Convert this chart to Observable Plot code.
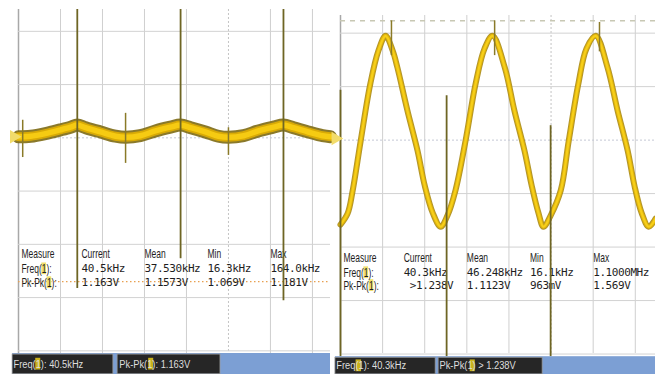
<!DOCTYPE html>
<html><head><meta charset="utf-8">
<script src="https://cdn.jsdelivr.net/npm/d3@7"></script>
<script src="https://cdn.jsdelivr.net/npm/@observablehq/plot@0.6"></script>
<style>
html,body{margin:0;padding:0;background:#fff;}
#wrap{position:relative;width:655px;height:374px;overflow:hidden;background:#fff;}
#wrap svg{position:absolute;top:0;}
</style></head><body><div id="wrap"></div>
<script>
// ===== data (units: oscilloscope divisions) =====
const gridX = [0, 1, 2, 3, 4, 6, 7];
const centerX = [5];
const gridY = [-3, -2, -1, 0, 2, 3];
const centerY = [1];

// left capture: ripple trace
const leftTraceX = [0.00,0.29,0.64,1.00,1.24,1.40,1.60,1.95,2.31,2.55,2.90,3.26,3.62,3.86,4.10,4.45,4.76,5.00,5.36,5.71,6.07,6.31,6.55,6.90,7.24,7.43];
const leftTraceY = [1.02,1.03,1.08,1.15,1.20,1.24,1.19,1.11,1.03,1.01,1.04,1.13,1.20,1.24,1.19,1.11,1.03,1.01,1.04,1.13,1.20,1.24,1.19,1.11,1.04,1.02];
const leftBigSpikeX = [1.40, 3.86, 6.31];
const leftBigSpikeTop = [3.41, 3.41, 3.41];
const leftBigSpikeBottom = [-1.83, -1.27, -2.06];
const leftSmallSpikeX = [0.10, 2.55, 5.00];
const leftSmallSpikeTop = [1.33, 1.46, 1.19];
const leftSmallSpikeBottom = [0.63, 0.52, 0.67];
const leftTriggerLevel = [-1.70];

// right capture: sine trace
const rightTraceX = [0.00,0.17,0.29,0.48,0.71,0.90,1.07,1.24,1.35,1.59,1.83,2.00,2.19,2.38,2.54,2.73,2.97,3.21,3.42,3.61,3.90,4.13,4.37,4.54,4.70,4.82,4.99,5.23,5.42,5.65,5.84,6.06,6.34,6.58,6.82,6.98,7.15,7.32,7.48];
const rightTraceY = [-0.58,-0.37,0.06,0.99,2.06,2.67,2.95,2.67,2.36,1.55,0.80,0.15,-0.36,-0.62,-0.41,0.06,0.99,2.06,2.71,2.95,2.36,1.55,0.80,0.15,-0.36,-0.62,-0.41,0.06,0.99,2.06,2.71,2.95,2.36,1.55,0.80,0.15,-0.36,-0.62,-0.47];
const rightBigSpikeX = [0.00, 2.52, 4.99];
const rightBigSpikeTop = [1.93, 1.83, 1.27];
const rightBigSpikeBottom = [-3.05, -3.05, -3.05];
const rightSmallSpikeX = [1.21, 3.66, 6.15];
const rightSmallSpikeTop = [3.23, 3.23, 3.20];
const rightSmallSpikeBottom = [2.58, 2.58, 2.65];
const rightCursorLevel = [3.23];

// measurement table
const headers = ["Measure", "Current", "Mean", "Min", "Max"];
const rowLabels = ["Freq(1):", "Pk-Pk(1):"];
const colX = [0.07, 1.50, 3.00, 4.50, 6.00];
const leftRowY = [-1.19, -1.46, -1.72];
const rightRowY = [-1.21, -1.48, -1.72];
const leftFreq = ["40.5kHz", "37.530kHz", "16.3kHz", "164.0kHz"];
const leftPkPk = ["1.163V", "1.1573V", "1.069V", "1.181V"];
const rightFreq = ["40.3kHz", "46.248kHz", "16.1kHz", "1.1000MHz"];
const rightPkPk = [" >1.238V", "1.1123V", "963mV", "1.569V"];

// status bar
const leftStatus = ["Freq(1): 40.5kHz", "Pk-Pk(1): 1.163V"];
const rightStatus = ["Freq(1): 40.3kHz", "Pk-Pk(1) > 1.238V"];

// ===== drawing =====
const SANS = "Liberation Sans, Arial, sans-serif";
const MONO = "DejaVu Sans Mono, Liberation Mono, monospace";
const SX = {"12.5": 0.68, "11.5": 0.81};

function zip(xs, ys) { return xs.map((x, i) => ({x, y: ys[i]})); }

function panel(o) {
  const trace = zip(o.traceX, o.traceY);
  const big = o.bigX.map((x, i) => ({x, y1: o.bigTop[i], y2: o.bigBottom[i]}));
  const small = o.smallX.map((x, i) => ({x, y1: o.smallTop[i], y2: o.smallBottom[i]}));
  const head = headers.map((t, i) => ({t, x: colX[i], y: o.rowY[0]}));
  const labels = rowLabels.map((t, i) => ({t, x: colX[0], y: o.rowY[i + 1]}));
  const vals = o.freq.map((t, i) => ({t, x: colX[i + 1], y: o.rowY[1]}))
    .concat(o.pk.map((t, i) => ({t, x: colX[i + 1], y: o.rowY[2]})));
  const hl = [
    {x1: colX[0] + 0.485, x2: colX[0] + 0.597, y: o.rowY[1]},
    {x1: colX[0] + 0.609, x2: colX[0] + 0.72, y: o.rowY[2]}
  ].map(d => ({...d, y1: d.y - 0.11, y2: d.y + 0.11}));
  const st = o.status;
  const bar = [{x1: st.barX1, x2: st.barX2, y1: st.y1, y2: st.y2}];
  const boxes = [
    {x1: st.boxX[0], x2: st.boxX[1], y1: st.y1 - 0.02, y2: st.y2 + 0.02},
    {x1: st.boxX[2], x2: st.boxX[3], y1: st.y1 - 0.02, y2: st.y2 + 0.02}
  ];
  const stHl = [
    {x1: st.hl[0], x2: st.hl[1], y1: st.ty - 0.11, y2: st.ty + 0.11},
    {x1: st.hl[2], x2: st.hl[3], y1: st.ty - 0.11, y2: st.ty + 0.11}
  ];
  const stText = o.statusText.map((t, i) => ({t, x: st.tx[i], y: st.ty}));

  const marks = [
    Plot.ruleX(gridX, {stroke: "#cfcfcf", strokeWidth: 1}),
    Plot.ruleX([0], {stroke: "#a8a8a8", strokeWidth: 1.5}),
    Plot.ruleX(centerX, {stroke: "#c4c4c4", strokeWidth: 1, strokeDasharray: "2,2"}),
    Plot.ruleY(gridY, {stroke: "#d2d2d2", strokeWidth: 1}),
    Plot.ruleY(centerY, {stroke: "#c4c8d4", strokeWidth: 1, strokeDasharray: "2,2"}),
  ];
  if (o.trigger) marks.push(Plot.ruleY(o.trigger, {stroke: "#e8a050", strokeWidth: 1.2, strokeDasharray: "1.5,2.5"}));
  if (o.cursor) marks.push(Plot.ruleY(o.cursor, {stroke: "#c8c8b4", strokeWidth: 1.5, strokeDasharray: "5,5"}));
  marks.push(
    Plot.rect(hl, {x1: "x1", x2: "x2", y1: "y1", y2: "y2", fill: "#f1df6e"}),
    Plot.text(head, {x: "x", y: "y", text: "t", textAnchor: "start", fontFamily: SANS, fontSize: 12.5, fill: "#1e1e1e"}),
    Plot.text(labels, {x: "x", y: "y", text: "t", textAnchor: "start", fontFamily: SANS, fontSize: 12.5, fill: "#1e1e1e"}),
    Plot.text(vals, {x: "x", y: "y", text: "t", textAnchor: "start", fontFamily: MONO, fontSize: 11, fill: "#1e1e1e"}),
    Plot.line(trace, {x: "x", y: "y", curve: "catmull-rom", stroke: o.tc[0], strokeWidth: o.tw[0], strokeOpacity: 0.9}),
    Plot.line(trace, {x: "x", y: "y", curve: "catmull-rom", stroke: o.tc[1], strokeWidth: o.tw[1]}),
    Plot.line(trace, {x: "x", y: "y", curve: "catmull-rom", stroke: o.tc[2], strokeWidth: o.tw[2]}),
    Plot.ruleX(small, {x: "x", y1: "y1", y2: "y2", stroke: "#8a7a28", strokeWidth: 1.5}),
    Plot.ruleX(big, {x: "x", y1: "y1", y2: "y2", stroke: "#6e6524", strokeWidth: 1.8}),
    Plot.dot([{x: o.marker[0], y: o.marker[1]}], {x: "x", y: "y", symbol: "triangle", rotate: 90, r: 5, fill: "#f2dc6a", stroke: "none"}),
    Plot.rect(bar, {x1: "x1", x2: "x2", y1: "y1", y2: "y2", fill: "#7c9fd4"}),
    Plot.rect(boxes, {x1: "x1", x2: "x2", y1: "y1", y2: "y2", fill: "#262626", stroke: "#9a9a9a", strokeWidth: 0.8}),
    Plot.rect(stHl, {x1: "x1", x2: "x2", y1: "y1", y2: "y2", fill: "#c9b21c"}),
    Plot.text(stText, {x: "x", y: "y", text: "t", textAnchor: "start", fontFamily: SANS, fontSize: 11.5, fill: "#dedede"})
  );

  const svg = Plot.plot({
    width: o.width, height: 374,
    marginLeft: o.mL, marginRight: 0, marginTop: o.mT, marginBottom: o.mB,
    x: {domain: o.xDom, axis: null},
    y: {domain: o.yDom, axis: null},
    style: {background: "transparent", overflow: "visible"},
    marks
  });
  d3.select(svg).selectAll('g[aria-label="text"]').each(function () {
    const fs = String(parseFloat(this.getAttribute("font-size")));
    const g = d3.select(this);
    if (SX[fs]) {
      g.selectAll("text").attr("transform", function () {
        return (this.getAttribute("transform") || "") + ` scale(${SX[fs]},1)`;
      });
    } else {
      g.selectAll("text").style("letter-spacing", "-0.42px");
    }
  });
  return svg;
}

const left = panel({
  width: 330, mL: 18, mT: 9, mB: 21,
  xDom: [0, 7.43], yDom: [-3.05, 3.41],
  traceX: leftTraceX, traceY: leftTraceY,
  tc: ["#7d6a14", "#d8aa06", "#f6cb12"], tw: [13, 9, 5.5],
  bigX: leftBigSpikeX, bigTop: leftBigSpikeTop, bigBottom: leftBigSpikeBottom,
  smallX: leftSmallSpikeX, smallTop: leftSmallSpikeTop, smallBottom: leftSmallSpikeBottom,
  trigger: leftTriggerLevel, cursor: null,
  rowY: leftRowY, freq: leftFreq, pk: leftPkPk,
  marker: [-0.11, 1.02],
  status: {barX1: -0.14, barX2: 7.43, y1: -3.05, y2: -3.46,
           boxX: [-0.14, 2.26, 2.36, 4.81], hl: [0.41, 0.53, 3.10, 3.22],
           tx: [-0.12, 2.40], ty: -3.25},
  statusText: leftStatus
});
left.style.left = "0px";

const right = panel({
  width: 325, mL: 10, mT: 15, mB: 21,
  xDom: [0, 7.48], yDom: [-2.99, 3.33],
  traceX: rightTraceX, traceY: rightTraceY,
  tc: ["#a88a14", "#e2b40a", "#f6cf1a"], tw: [6, 4, 2.2],
  bigX: rightBigSpikeX, bigTop: rightBigSpikeTop, bigBottom: rightBigSpikeBottom,
  smallX: rightSmallSpikeX, smallTop: rightSmallSpikeTop, smallBottom: rightSmallSpikeBottom,
  trigger: null, cursor: rightCursorLevel,
  rowY: rightRowY, freq: rightFreq, pk: rightPkPk,
  marker: [-0.12, 1.03],
  status: {barX1: -0.12, barX2: 7.48, y1: -3.05, y2: -3.40,
           boxX: [-0.12, 2.26, 2.33, 4.80], hl: [0.37, 0.50, 3.08, 3.20],
           tx: [-0.10, 2.35], ty: -3.22},
  statusText: rightStatus
});
right.style.left = "330px";

const wrap = document.getElementById("wrap");
wrap.appendChild(left);
wrap.appendChild(right);
</script>
</body></html>
